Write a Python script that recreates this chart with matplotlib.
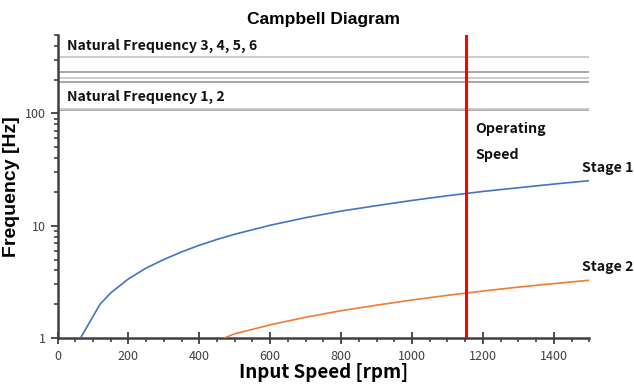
import matplotlib
matplotlib.use("Agg")
import matplotlib.pyplot as plt
from matplotlib.ticker import MultipleLocator, LogLocator, NullFormatter, FixedLocator, FixedFormatter

# ---- data ----
stage1_rpm = [65, 120, 150, 200, 250, 300, 350, 400, 450, 500, 600, 700, 800, 900,
              1000, 1100, 1200, 1300, 1400, 1500]
stage1_hz = [1.0, 2.0, 2.52, 3.36, 4.2, 5.0, 5.85, 6.7, 7.55, 8.4, 10.1, 11.8,
             13.5, 15.1, 16.8, 18.5, 20.2, 21.8, 23.5, 25.2]
stage2_rpm = [470, 500, 600, 700, 800, 900, 1000, 1100, 1200, 1300, 1400, 1500]
stage2_hz = [1.0, 1.09, 1.31, 1.53, 1.75, 1.96, 2.18, 2.4, 2.62, 2.84, 3.05, 3.27]
natural_freqs = [107, 110, 189, 206, 235, 316]
natural_colors = ["#a0a0a0", "#c8c8c8", "#a0a0a0", "#c8c8c8", "#a0a0a0", "#c8c8c8"]
operating_speed = 1152
x_ticks = [0, 200, 400, 600, 800, 1000, 1200, 1400]
y_ticks = [1, 10, 100]
y_tick_labels = ["1", "10", "100"]

kfont = ["Noto Sans CJK KR", "DejaVu Sans"]

fig = plt.figure(figsize=(6.34, 3.88), dpi=100)
ax = fig.add_axes([0.0907, 0.1289, 0.8388, 0.7809])

for f, c in zip(natural_freqs, natural_colors):
    ax.axhline(f, color=c, lw=1.3, zorder=1)

ax.plot(stage1_rpm, stage1_hz, color="#4472C4", lw=1.2, zorder=3)
ax.plot(stage2_rpm, stage2_hz, color="#ED7D31", lw=1.2, zorder=3)
ax.axvline(operating_speed, color="#FF0000", lw=2.2, zorder=4)

ax.set_yscale("log")
ax.set_xlim(0, 1500)
ax.set_ylim(1, 500)

ax.xaxis.set_major_locator(FixedLocator(x_ticks))
ax.xaxis.set_minor_locator(MultipleLocator(50))
ax.yaxis.set_major_locator(FixedLocator(y_ticks))
ax.yaxis.set_major_formatter(FixedFormatter(y_tick_labels))
ax.yaxis.set_minor_locator(LogLocator(base=10, subs=range(2, 10)))
ax.yaxis.set_minor_formatter(NullFormatter())

for s in ["top", "right"]:
    ax.spines[s].set_visible(False)
for s in ["left", "bottom"]:
    ax.spines[s].set_color("#404040")
    ax.spines[s].set_linewidth(1.8)

ax.tick_params(axis="x", which="major", direction="inout", length=8, width=1.3, color="#404040",
               labelsize=9, labelcolor="#404040", pad=5)
ax.tick_params(axis="x", which="minor", direction="out", length=3, width=1.2, color="#404040")
ax.tick_params(axis="y", which="major", direction="out", length=5, width=1.3, color="#404040",
               labelsize=9, labelcolor="#404040", pad=3)
ax.tick_params(axis="y", which="minor", direction="out", length=3, width=1.2, color="#404040")
for lab in ax.get_xticklabels() + ax.get_yticklabels():
    lab.set_family(kfont)

ax.set_title("Campbell Diagram", fontsize=12.5, fontweight="bold", family="Liberation Sans", pad=8)
ax.set_xlabel("Input Speed [rpm]", fontsize=13.5, fontweight="bold", family=kfont, labelpad=0)
ax.set_ylabel("Frequency [Hz]", fontsize=14, fontweight="bold", family="Liberation Sans", labelpad=4)

tk = dict(fontsize=10.2, fontweight="bold", family=kfont, va="center", ha="left", color="#111111")
ax.text(27, 402, "Natural Frequency 3, 4, 5, 6", **tk)
ax.text(27, 139, "Natural Frequency 1, 2", **tk)
ax.text(1178, 72, "Operating", **tk)
ax.text(1178, 43, "Speed", **tk)
ax.text(1479, 32.4, "Stage 1", clip_on=False, **tk)
ax.text(1479, 4.3, "Stage 2", clip_on=False, **tk)

fig.savefig("out.png", dpi=100)
